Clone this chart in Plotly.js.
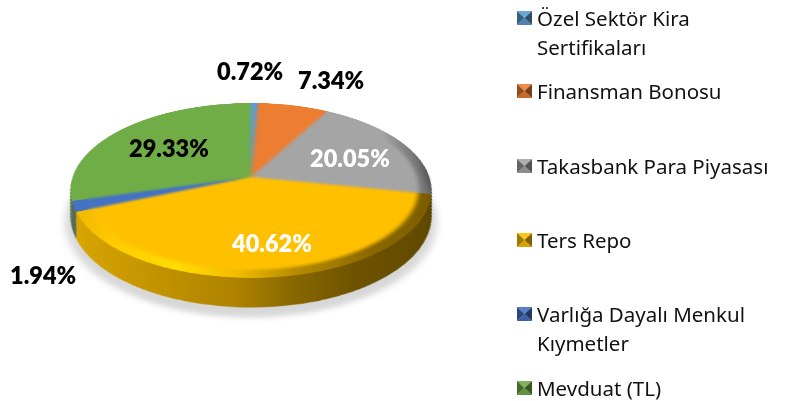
<!DOCTYPE html>
<html><head><meta charset="utf-8">
<script src="https://cdn.plot.ly/plotly-3.0.1.min.js"></script>
<style>html,body{margin:0;padding:0;background:#fff;overflow:hidden}#c{width:792px;height:401px;position:relative}</style>
</head><body><div id="c"></div>
<script>
const categories = ["Özel Sektör Kira Sertifikaları","Finansman Bonosu","Takasbank Para Piyasası","Ters Repo","Varlığa Dayalı Menkul Kıymetler","Mevduat (TL)"];
const values = [0.72,7.34,20.05,40.62,1.94,29.33];
const colors = ["#5B9BD5","#ED7D31","#A5A5A5","#FFC000","#4472C4","#70AD47"];
const wallColors = ["#3a6a96","#a5551f","#5a5a5a","#8a6800","#566b5c","#64874a"];
const bevelColors = ["#5B9BD5","#ED7D31","url(#bevG)","url(#bevY)","#4472C4","#70AD47"];
const wallFills = ["#3a6a96","#a5551f","#5a5a5a","url(#wallY)","#566b5c","#64874a"];
const legendLines = [["Özel Sektör Kira","Sertifikaları"],["Finansman Bonosu"],["Takasbank Para Piyasası"],["Ters Repo"],["Varlığa Dayalı Menkul","Kıymetler"],["Mevduat (TL)"]];
const legendY = [18,91,166,240,314,388];
const labelPos = [[250,71,"#000"],[331,80,"#000"],[350,158,"#fff"],[271,243,"#fff"],[43,275,"#000"],[169,148,"#000"]];

const W=792,H=401,CX=251,CY=200.5,R=178.4,APEX=177,PERSP=1017,TILT=61.4,TP=0.154;
const DEPTH=50,STEPS=25,FLAT=0.93;
const dom={x:[(CX-R)/W,(CX+R)/W],y:[(H-CY-R)/H,(H-CY+R)/H]};
function pie(cols,name){return {type:"pie",values:values,labels:categories,sort:false,direction:"clockwise",rotation:0,
  textinfo:"none",hoverinfo:"label+percent",domain:dom,name:name,marker:{colors:cols,line:{width:0}}};}
const traces=[];
traces.push(pie(categories.map(()=>"#bdbdbd"),"shadow"));
for(let i=STEPS;i>=1;i--) traces.push(pie(wallColors,"wall"));
traces.push(pie(colors,"bevel"));
traces.push(pie(colors,"top"));

const ann=[];
values.forEach((v,i)=>{const p=labelPos[i];ann.push({xref:"paper",yref:"paper",x:p[0]/W,y:1-p[1]/H,showarrow:false,xanchor:"center",yanchor:"middle",
  text:v.toFixed(2)+"%",font:{family:"Lato, Carlito, sans-serif",size:23.5,weight:800,color:p[2]}});});
legendLines.forEach((ls,i)=>ls.forEach((t,j)=>ann.push({xref:"paper",yref:"paper",x:537/W,y:1-(legendY[i]+j*29)/H,showarrow:false,xanchor:"left",yanchor:"middle",
  xshift:-2,text:t,font:{family:"'Noto Sans', sans-serif",size:20.5,color:"#111"}})));

function shade(hex,f){const n=parseInt(hex.slice(1),16);const c=[n>>16,(n>>8)&255,n&255].map(v=>Math.round(f>1?v+(255-v)*(f-1):v*f));return `rgb(${c})`;}
const shapes=[];
colors.forEach((c,i)=>{const y0=legendY[i]-7,y1=legendY[i]+7,x0=517,x1=532,mx=524.5,my=legendY[i];
  const tri=(pts,col)=>shapes.push({type:"path",xref:"paper",yref:"paper",line:{width:0},fillcolor:col,
    path:"M"+pts.map(p=>(p[0]/W)+","+(1-p[1]/H)).join("L")+"Z"});
  tri([[x0,y0],[x1,y0],[mx,my]],shade(c,1.1));
  tri([[x0,y1],[x1,y1],[mx,my]],shade(c,0.85));
  tri([[x0,y0],[x0,y1],[mx,my]],shade(c,0.62));
  tri([[x1,y0],[x1,y1],[mx,my]],shade(c,0.5));
});

const gd=document.getElementById("c");
Plotly.newPlot(gd,traces,{width:W,height:H,margin:{l:0,r:0,t:0,b:0},showlegend:false,paper_bgcolor:"#fff",plot_bgcolor:"#fff",annotations:ann,shapes:shapes},{displayModeBar:false,responsive:false}).then(()=>{
  const NS="http://www.w3.org/2000/svg";
  const layer=gd.querySelector(".pielayer");
  const svg=document.createElementNS(NS,"svg");
  svg.setAttribute("width",W);svg.setAttribute("height",H);
  svg.style.cssText=`position:absolute;left:0;top:0;overflow:visible;pointer-events:none;transform-origin:${CX}px ${CY}px;transform:translateY(${APEX-CY}px) perspective(${PERSP}px) rotateX(${TILT}deg);`;
  const stops=(id,list)=>`<linearGradient id="${id}" x1="0" y1="0" x2="1" y2="0">`+list.map(s=>`<stop offset="${s[0]}" stop-color="${s[1]}"/>`).join("")+`</linearGradient>`;
  const defs=document.createElementNS(NS,"defs");
  defs.innerHTML=stops("wallY",[[0,"#D8A500"],[0.2,"#C79700"],[0.45,"#AD8200"],[0.6,"#876600"],[0.75,"#6E5300"],[1,"#5E4700"]])
    +stops("bevY",[[0,"#EFB600"],[0.12,"#FFCB00"],[0.3,"#FFDC00"],[0.45,"#F2BC00"],[0.6,"#B58A00"],[0.8,"#8A6800"],[1,"#7A5C00"]])
    +stops("bevG",[[0,"#A5A5A5"],[0.8,"#A5A5A5"],[0.95,"#777"],[1,"#555"]]);
  svg.appendChild(defs);
  const main=layer.closest("svg");
  main.parentNode.insertBefore(svg,main.nextSibling);
  svg.appendChild(layer);
  const tr=[...layer.querySelectorAll(":scope > .trace")];
  const place=(g,delta,k)=>g.setAttribute("transform",`translate(${CX},${CY+delta}) scale(${k}) translate(${-CX},${-CY})`);
  const kOf=d=>1-TP*d/R;
  tr.forEach((g,i)=>{
    const paths=[...g.querySelectorAll("path.surface")];
    if(i===0){place(g,DEPTH+10,kOf(DEPTH)*1.02);g.style.filter="blur(4px)";g.style.opacity="0.6";}
    else if(i<=STEPS){const d=(STEPS-i+1)*DEPTH/STEPS;place(g,d,kOf(d));paths.forEach((p,j)=>p.style.fill=wallFills[j]);}
    else if(i===STEPS+1){paths.forEach((p,j)=>p.style.fill=bevelColors[j]);}
    else {place(g,0,FLAT);g.style.filter="blur(2.5px)";}
  });
});
</script></body></html>
